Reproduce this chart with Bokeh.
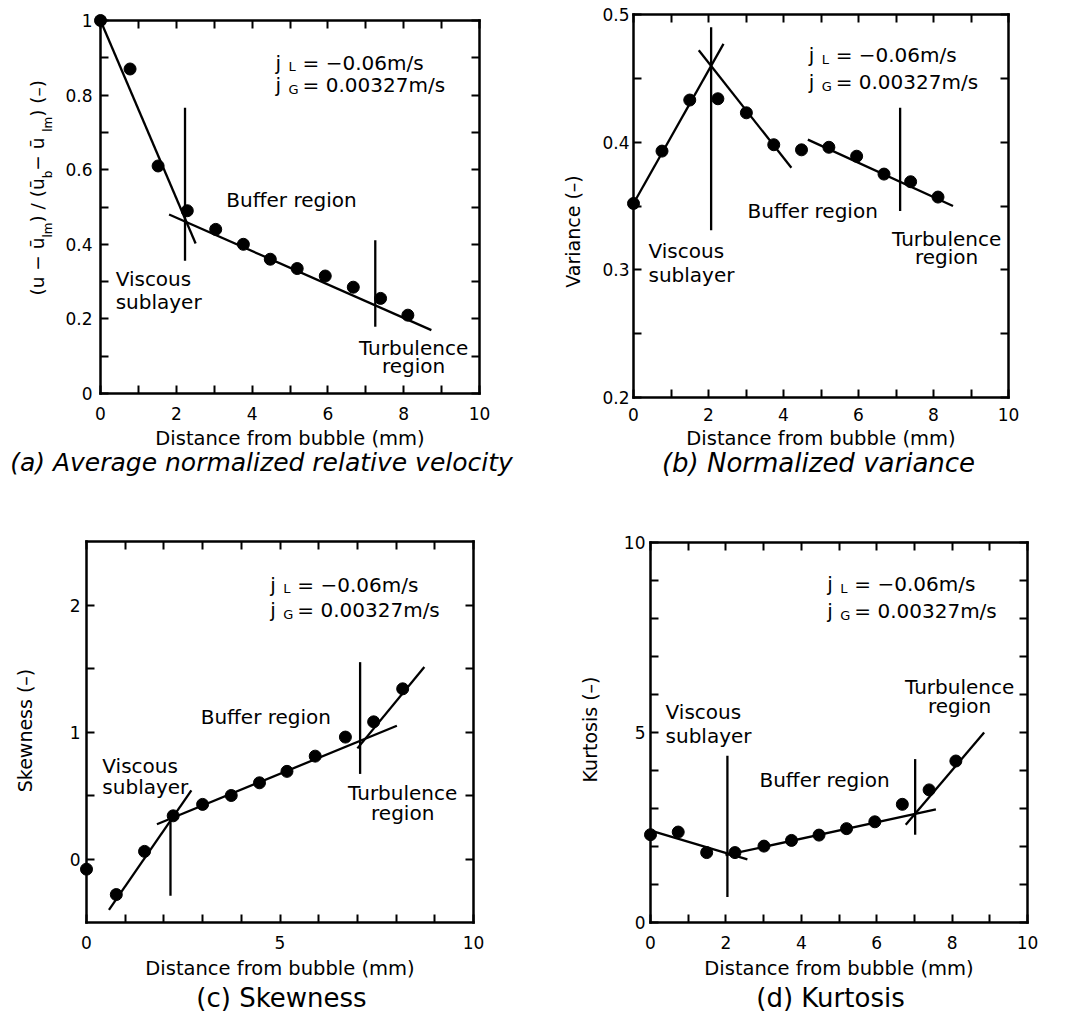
import math
from bokeh.plotting import figure
from bokeh.layouts import row, column
from bokeh.models import Range1d, Label, LinearAxis, FixedTicker
from bokeh.embed import file_html
from bokeh.resources import INLINE

FONT = "DejaVu Sans"

# ---------------- data ----------------
# (a) average normalized relative velocity
dist_a = [0.0, 0.78, 1.52, 2.29, 3.04, 3.77, 4.48, 5.19, 5.93, 6.67, 7.39, 8.11]
vel_a = [1.0, 0.87, 0.61, 0.49, 0.44, 0.40, 0.36, 0.335, 0.315, 0.285, 0.255, 0.21]
fit_a_x = [[0.0, 2.51], [1.81, 8.73]]
fit_a_y = [[1.0, 0.402], [0.48, 0.17]]
bound_a_x = [2.23, 7.25]
bound_a_lo = [0.356, 0.179]
bound_a_hi = [0.766, 0.411]

# (b) normalized variance
dist_b = [0.0, 0.76, 1.50, 2.25, 3.01, 3.74, 4.48, 5.21, 5.95, 6.68, 7.39, 8.12]
var_b = [0.352, 0.393, 0.433, 0.434, 0.423, 0.398, 0.394, 0.396, 0.389, 0.375, 0.369, 0.357]
fit_b_x = [[0.0, 2.40], [1.74, 4.21], [4.65, 8.52]]
fit_b_y = [[0.352, 0.477], [0.472, 0.380], [0.402, 0.350]]
bound_b_x = [2.07, 7.11]
bound_b_lo = [0.331, 0.346]
bound_b_hi = [0.490, 0.427]

# (c) skewness
dist_c = [0.0, 0.77, 1.50, 2.24, 3.00, 3.74, 4.47, 5.18, 5.91, 6.69, 7.42, 8.17]
skew_c = [-0.08, -0.28, 0.06, 0.34, 0.43, 0.50, 0.60, 0.69, 0.81, 0.96, 1.08, 1.34]
fit_c_x = [[0.58, 2.71], [1.82, 8.02], [7.0, 8.73]]
fit_c_y = [[-0.40, 0.54], [0.274, 1.049], [0.871, 1.512]]
bound_c_x = [2.17, 7.07]
bound_c_lo = [-0.29, 0.67]
bound_c_hi = [0.37, 1.55]

# (d) kurtosis
dist_d = [0.0, 0.735, 1.49, 2.24, 3.01, 3.74, 4.47, 5.20, 5.95, 6.68, 7.39, 8.10]
kurt_d = [2.31, 2.38, 1.84, 1.84, 2.01, 2.16, 2.30, 2.47, 2.65, 3.11, 3.49, 4.25]
fit_d_x = [[0.03, 2.57], [1.99, 7.57], [6.77, 8.85]]
fit_d_y = [[2.41, 1.66], [1.77, 2.98], [2.57, 5.0]]
bound_d_x = [2.04, 7.02]
bound_d_lo = [0.67, 2.31]
bound_d_hi = [4.39, 4.30]

# ticks
x_major_2 = [0, 2, 4, 6, 8, 10]
x_minor_2 = [1, 3, 5, 7, 9]
x_major_5 = [0, 5, 10]
x_minor_5 = [1, 2, 3, 4, 6, 7, 8, 9]
ya_major = [0, 0.2, 0.4, 0.6, 0.8, 1]
ya_labels = ["0", "0.2", "0.4", "0.6", "0.8", "1"]
ya_minor = [0.1, 0.3, 0.5, 0.7, 0.9]
yb_major = [0.2, 0.3, 0.4, 0.5]
yb_labels = ["0.2", "0.3", "0.4", "0.5"]
yb_minor = [0.25, 0.35, 0.45]
yc_major = [0, 1, 2]
yc_labels = ["0", "1", "2"]
yc_minor = [0.5, 1.5]
yd_major = [0, 5, 10]
yd_labels = ["0", "5", "10"]
yd_minor = [1, 2, 3, 4, 6, 7, 8, 9]

XLABEL = "Distance from bubble (mm)"

# DejaVu Sans advance widths (em) for composing the rotated label
ADV = {'(': .390, ')': .390, 'u': .634, ' ': .318, '\u2212': .838, '\u016b': .634,
       '/': .337, 'l': .278, 'm': .974, 'b': .635, '\u2013': .5}


def text_w(s, size):
    return sum(ADV.get(c, .6) for c in s) * size


def style_axis(ax, major, minor, labels=None, show=True, standoff=6):
    ax.ticker = FixedTicker(ticks=major, minor_ticks=minor)
    ax.axis_line_width = 2.5
    ax.axis_line_color = "black"
    ax.axis_line_cap = "square"
    ax.major_tick_in = 8
    ax.major_tick_out = 0
    ax.minor_tick_in = 8
    ax.minor_tick_out = 0
    ax.major_tick_line_width = 2
    ax.minor_tick_line_width = 2
    ax.major_label_text_font = FONT
    ax.major_label_text_font_size = "17px"
    ax.major_label_text_color = "black"
    ax.major_label_standoff = standoff
    if not show:
        ax.major_label_overrides = {t: "" for t in major}
    elif labels is not None:
        ax.major_label_overrides = {t: s for t, s in zip(major, labels)}


class Panel:
    def __init__(self, fig_rect, box, xr, yr, xmaj, xmin, ymaj, ymin, ylabs, ystand, xstand=13):
        fx0, fy0, fx1, fy1 = fig_rect
        L, R, T, B = box
        self.fx0, self.fy0 = fx0, fy0
        self.ux = (xr[1] - xr[0]) / (R - L)
        self.uy = (yr[1] - yr[0]) / (B - T)
        self.xs = xr[0] - (L - fx0) * self.ux
        self.ye = yr[1] + (T - fy0) * self.uy
        xe = xr[1] + (fx1 - R) * self.ux
        ys = yr[0] - (fy1 - B) * self.uy
        p = figure(frame_width=fx1 - fx0, frame_height=fy1 - fy0,
                   x_range=Range1d(self.xs, xe), y_range=Range1d(ys, self.ye),
                   x_axis_location=None, y_axis_location=None,
                   output_backend="svg", toolbar_location=None, tools="",
                   min_border=0, min_border_left=0, min_border_right=0,
                   min_border_top=0, min_border_bottom=0,
                   background_fill_color="white", border_fill_color="white",
                   outline_line_color=None)
        p.grid.visible = False
        bottom = LinearAxis(fixed_location=yr[0], bounds=xr)
        style_axis(bottom, xmaj, xmin, standoff=xstand)
        top = LinearAxis(fixed_location=yr[1], bounds=xr)
        style_axis(top, xmaj, xmin, show=False)
        left = LinearAxis(fixed_location=xr[0], bounds=yr)
        style_axis(left, ymaj, ymin, labels=ylabs, standoff=ystand)
        right = LinearAxis(fixed_location=xr[1], bounds=yr)
        style_axis(right, ymaj, ymin, show=False)
        p.add_layout(bottom, "below")
        p.add_layout(top, "above")
        p.add_layout(left, "left")
        p.add_layout(right, "right")
        self.p = p

    def X(self, px):
        return self.xs + (px - self.fx0) * self.ux

    def Y(self, py):
        return self.ye - (py - self.fy0) * self.uy

    def lab(self, x, y, text, size, align="left", baseline="middle", angle=0.0, style="normal"):
        self.p.add_layout(Label(x=x, y=y, text=text, text_font=FONT, text_font_size=f"{size}px",
                                text_align=align, text_baseline=baseline, angle=angle,
                                text_font_style=style, text_color="black"))

    def lab_px(self, px, py, text, size, **kw):
        self.lab(self.X(px), self.Y(py), text, size, **kw)

    def draw(self, xs, ys, fx, fy, bx, blo, bhi):
        self.p.multi_line(xs=fx, ys=fy, line_color="black", line_width=2.3)
        self.p.segment(x0=bx, y0=blo, x1=bx, y1=bhi, line_color="black", line_width=2.3)
        self.p.scatter(xs, ys, size=12, color="black")

    def jlabels(self, x, yl, yg):
        for y, sub, rest in [(yl, "L", "= \u22120.06m/s"), (yg, "G", "= 0.00327m/s")]:
            self.lab(x, y, "j", 20, baseline="alphabetic")
            self.lab(x + 13 * self.ux, y - 4 * self.uy, sub, 13, baseline="alphabetic")
            self.lab(x + 27 * self.ux, y, rest, 20, baseline="alphabetic")

    def regions(self, vis, buf, turb):
        self.lab(vis[0], vis[1], "Viscous", 20)
        self.lab(vis[0], vis[2], "sublayer", 20)
        self.lab(buf[0], buf[1], "Buffer region", 20)
        self.lab(turb[0], turb[1], "Turbulence", 20, align="center")
        self.lab(turb[0], turb[2], "region", 20, align="center")


HALF_PI = math.pi / 2

# ---------------- panel (a) ----------------
A = Panel((0, 0, 520, 500), (100, 479, 20, 393), (0, 10), (0, 1),
          x_major_2, x_minor_2, ya_major, ya_minor, ya_labels, 8)
A.draw(dist_a, vel_a, fit_a_x, fit_a_y, bound_a_x, bound_a_lo, bound_a_hi)
A.jlabels(4.62, 0.887, 0.826)
A.regions((0.40, 0.308, 0.244), (3.32, 0.52), (8.26, 0.123, 0.075))
A.lab_px(289.5, 438, XLABEL, 19.5, align="center")
# composed rotated y label: (u − ū_lm) / (ū_b − ū_lm) (–)
MAIN, SUB = 18.5, 12
pieces = [("(u \u2212 \u016b", MAIN, 0), ("lm", SUB, 10), (") / (\u016b", MAIN, 0), ("b", SUB, 10),
          (" \u2212 \u016b", MAIN, 0), ("lm", SUB, 10), (") (\u2013)", MAIN, 0)]
acc = 0.0
for txt, sz, shift in pieces:
    A.lab_px(37 + shift, 295 - acc, txt, sz, baseline="alphabetic", angle=HALF_PI)
    acc += text_w(txt, sz)
A.lab_px(261, 462, "(a) Average normalized relative velocity", 25, align="center", style="italic")

# ---------------- panel (b) ----------------
Bp = Panel((520, 0, 1060, 500), (633, 1008, 14, 397), (0, 10), (0.2, 0.5),
           x_major_2, x_minor_2, yb_major, yb_minor, yb_labels, 4, xstand=10)
Bp.draw(dist_b, var_b, fit_b_x, fit_b_y, bound_b_x, bound_b_lo, bound_b_hi)
Bp.jlabels(4.67, 0.468, 0.447)
Bp.regions((0.40, 0.315, 0.2956), (3.04, 0.346), (8.35, 0.3245, 0.3097))
Bp.lab_px(820.5, 438, XLABEL, 19.5, align="center")
Bp.lab_px(572, 231, "Variance (\u2013)", 19, align="center", angle=HALF_PI)
Bp.lab_px(818, 462, "(b) Normalized variance", 26, align="center", style="italic")

# ---------------- panel (c) ----------------
C = Panel((0, 500, 520, 1018), (86, 473, 541, 922), (0, 10), (-0.5, 2.5),
          x_major_5, x_minor_5, yc_major, yc_minor, yc_labels, 6)
C.draw(dist_c, skew_c, fit_c_x, fit_c_y, bound_c_x, bound_c_lo, bound_c_hi)
C.jlabels(4.75, 2.16, 1.96)
C.regions((0.41, 0.73, 0.566), (2.95, 1.115), (8.17, 0.516, 0.36))
C.lab_px(279.5, 968, XLABEL, 19.5, align="center")
C.lab(C.X(24), 1.012, "Skewness (\u2013)", 19, align="center", angle=HALF_PI)
C.lab_px(281, 997, "(c) Skewness", 26, align="center")

# ---------------- panel (d) ----------------
D = Panel((520, 500, 1060, 1018), (650, 1027, 542, 922), (0, 10), (0, 10),
          x_major_2, x_minor_2, yd_major, yd_minor, yd_labels, 5)
D.draw(dist_d, kurt_d, fit_d_x, fit_d_y, bound_d_x, bound_d_lo, bound_d_hi)
D.jlabels(4.69, 8.90, 8.19)
D.regions((0.40, 5.55, 4.92), (2.89, 3.74), (8.2, 6.21, 5.71))
D.lab_px(838.5, 968, XLABEL, 19.5, align="center")
D.lab(D.X(589), 5.08, "Kurtosis (\u2013)", 19, align="center", angle=HALF_PI)
D.lab_px(830, 997, "(d) Kurtosis", 26, align="center")

layout = column(row(A.p, Bp.p), row(C.p, D.p))
open("out.html", "w").write(file_html(layout, INLINE))
